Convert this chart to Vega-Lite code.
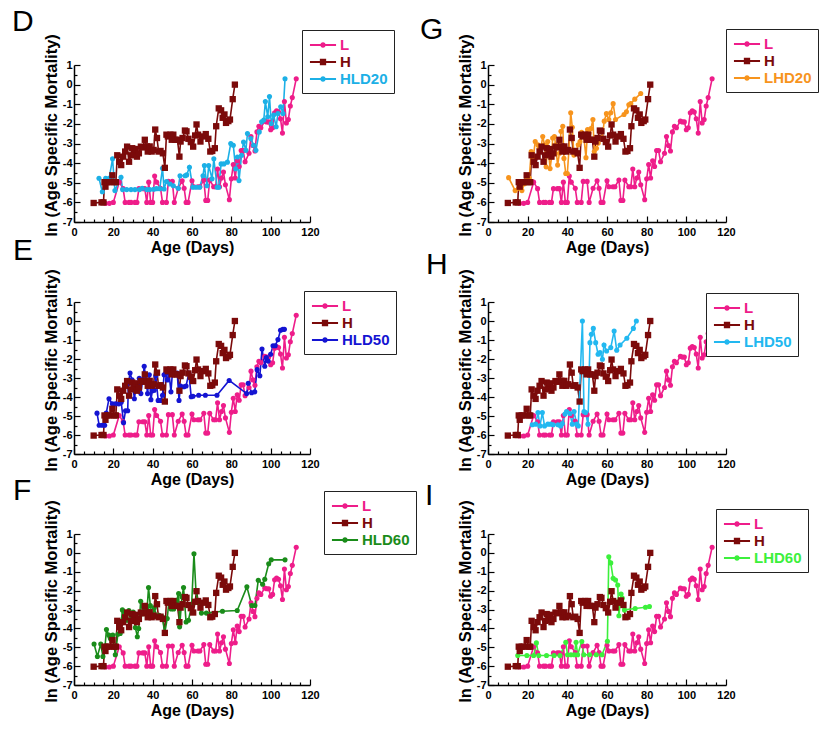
{
"$schema": "https://vega.github.io/schema/vega-lite/v6.json",
"background": "white",
"padding": {"left": 12, "top": 6, "right": 5, "bottom": 5},
"config": {
  "view": {"stroke": null},
  "axis": {"grid": false, "domainColor": "#000", "domainWidth": 1.5, "tickColor": "#000", "tickWidth": 1.2,
    "labelFont": "Liberation Sans", "labelFontWeight": "bold", "labelFontSize": 11, "labelColor": "#000",
    "titleFont": "Liberation Sans", "titleFontWeight": "bold", "titleColor": "#000"},
  "axisX": {"titleFontSize": 16, "titlePadding": 2, "labelPadding": 10, "labelFlush": false},
  "axisY": {"titleFontSize": 16.5, "titlePadding": 3, "labelPadding": 8},
  "legend": {"title": null, "orient": "none", "strokeColor": "#222", "fillColor": "#fff", "padding": 6, "symbolSize": 324, "symbolStrokeWidth": 0, "symbolOffset": 6,
    "symbolType": "M-1.45,-0.1L1.45,-0.1L1.45,0.1L-1.45,0.1Z M0.3,0A0.3,0.3,0,1,1,-0.3,0A0.3,0.3,0,1,1,0.3,0Z",
    "labelFont": "Liberation Sans", "labelFontSize": 15, "labelFontWeight": "bold", "rowPadding": 0, "labelOffset": 8},
  "title": {"font": "Liberation Sans", "fontSize": 30, "fontWeight": "normal", "color": "#000", "anchor": "start", "frame": "group", "baseline": "alphabetic"}
},
"datasets": {"all": [
{"s":"L","d":14,"m":-6},{"s":"L","d":16,"m":-6.05},{"s":"L","d":18,"m":-6.05},{"s":"L","d":20,"m":-6},{"s":"L","d":23,"m":-4.97},{"s":"L","d":25,"m":-5.3},{"s":"L","d":26,"m":-6},{"s":"L","d":28,"m":-6},{"s":"L","d":29,"m":-6},{"s":"L","d":31,"m":-6},{"s":"L","d":32,"m":-6},{"s":"L","d":33,"m":-5.3},{"s":"L","d":35,"m":-5.3},{"s":"L","d":36,"m":-5.3},{"s":"L","d":37,"m":-6},{"s":"L","d":38,"m":-4.97},{"s":"L","d":39,"m":-6},{"s":"L","d":40,"m":-6},{"s":"L","d":41,"m":-4.66},{"s":"L","d":42,"m":-4.97},{"s":"L","d":44,"m":-5.28},{"s":"L","d":45,"m":-6},{"s":"L","d":47,"m":-6},{"s":"L","d":48,"m":-4.93},{"s":"L","d":50,"m":-4.93},{"s":"L","d":51,"m":-6},{"s":"L","d":53,"m":-5.28},{"s":"L","d":55,"m":-4.9},{"s":"L","d":56,"m":-5.28},{"s":"L","d":57,"m":-6},{"s":"L","d":58,"m":-6},{"s":"L","d":60,"m":-4.9},{"s":"L","d":61,"m":-5.2},{"s":"L","d":63,"m":-5.2},{"s":"L","d":64,"m":-5.2},{"s":"L","d":66,"m":-4.86},{"s":"L","d":67,"m":-5.9},{"s":"L","d":68,"m":-5.9},{"s":"L","d":69,"m":-4.86},{"s":"L","d":71,"m":-5.2},{"s":"L","d":72,"m":-5.2},{"s":"L","d":73,"m":-4.3},{"s":"L","d":74,"m":-5.2},{"s":"L","d":75,"m":-4.76},{"s":"L","d":76,"m":-4.45},{"s":"L","d":77,"m":-5.1},{"s":"L","d":79,"m":-5.86},{"s":"L","d":80,"m":-4.8},{"s":"L","d":81,"m":-4.07},{"s":"L","d":82,"m":-4.76},{"s":"L","d":83,"m":-3.88},{"s":"L","d":84,"m":-4.17},{"s":"L","d":85,"m":-3.36},{"s":"L","d":86,"m":-3.36},{"s":"L","d":87,"m":-3.93},{"s":"L","d":89,"m":-3.5},{"s":"L","d":90,"m":-2.64},{"s":"L","d":91,"m":-3.1},{"s":"L","d":92,"m":-3.38},{"s":"L","d":93,"m":-2.41},{"s":"L","d":94,"m":-2.12},{"s":"L","d":95,"m":-2.2},{"s":"L","d":97,"m":-1.86},{"s":"L","d":98,"m":-1.9},{"s":"L","d":99,"m":-1.9},{"s":"L","d":100,"m":-2.3},{"s":"L","d":101,"m":-2.2},{"s":"L","d":102,"m":-1.43},{"s":"L","d":103,"m":-1.34},{"s":"L","d":104,"m":-1.4},{"s":"L","d":105,"m":-1.74},{"s":"L","d":106,"m":-2.47},{"s":"L","d":107,"m":-0.86},{"s":"L","d":108,"m":-1.95},{"s":"L","d":109,"m":-1.78},{"s":"L","d":110,"m":-1.09},{"s":"L","d":111,"m":-0.66},{"s":"L","d":113,"m":0.3},
{"s":"H","d":10,"m":-6.03},{"s":"H","d":14,"m":-6},{"s":"H","d":15,"m":-6},{"s":"H","d":15.5,"m":-4.97},{"s":"H","d":16,"m":-5.2},{"s":"H","d":17,"m":-4.97},{"s":"H","d":18,"m":-4.97},{"s":"H","d":19.5,"m":-4.62},{"s":"H","d":20.5,"m":-4.97},{"s":"H","d":21.3,"m":-4.97},{"s":"H","d":22,"m":-3.6},{"s":"H","d":23,"m":-3.93},{"s":"H","d":24,"m":-4.1},{"s":"H","d":25,"m":-3.67},{"s":"H","d":26,"m":-3.41},{"s":"H","d":27,"m":-3.16},{"s":"H","d":28,"m":-3.93},{"s":"H","d":29,"m":-3.6},{"s":"H","d":29.6,"m":-3.24},{"s":"H","d":30.5,"m":-3.55},{"s":"H","d":31.3,"m":-3.28},{"s":"H","d":32,"m":-3.67},{"s":"H","d":33,"m":-3.5},{"s":"H","d":34,"m":-3.16},{"s":"H","d":35,"m":-3.2},{"s":"H","d":36,"m":-2.81},{"s":"H","d":37,"m":-3.15},{"s":"H","d":37.5,"m":-3.41},{"s":"H","d":38.5,"m":-3.15},{"s":"H","d":39.5,"m":-3.41},{"s":"H","d":40.5,"m":-3.33},{"s":"H","d":41.3,"m":-2.29},{"s":"H","d":42.2,"m":-2.72},{"s":"H","d":43,"m":-3.41},{"s":"H","d":44,"m":-3.38},{"s":"H","d":45.2,"m":-3.5},{"s":"H","d":46.2,"m":-4.24},{"s":"H","d":47,"m":-2.55},{"s":"H","d":47.7,"m":-2.64},{"s":"H","d":49,"m":-2.55},{"s":"H","d":49.7,"m":-2.81},{"s":"H","d":50.5,"m":-2.55},{"s":"H","d":51.5,"m":-2.81},{"s":"H","d":52.6,"m":-2.81},{"s":"H","d":53.6,"m":-3.67},{"s":"H","d":54.2,"m":-2.9},{"s":"H","d":55.2,"m":-2.72},{"s":"H","d":56.4,"m":-2.34},{"s":"H","d":57.2,"m":-2.38},{"s":"H","d":58.2,"m":-2.76},{"s":"H","d":59.4,"m":-2.93},{"s":"H","d":60.6,"m":-3.16},{"s":"H","d":61.6,"m":-2.59},{"s":"H","d":62.3,"m":-2.03},{"s":"H","d":63.1,"m":-2.55},{"s":"H","d":64.3,"m":-2.9},{"s":"H","d":65.6,"m":-2.64},{"s":"H","d":67,"m":-2.52},{"s":"H","d":68.3,"m":-2.76},{"s":"H","d":69.3,"m":-3.41},{"s":"H","d":70.3,"m":-3.38},{"s":"H","d":71.6,"m":-3.24},{"s":"H","d":72.3,"m":-2.12},{"s":"H","d":73.6,"m":-1.21},{"s":"H","d":74.8,"m":-1.31},{"s":"H","d":75.6,"m":-1.69},{"s":"H","d":76.5,"m":-1.52},{"s":"H","d":77.3,"m":-1.95},{"s":"H","d":78.5,"m":-1.86},{"s":"H","d":79.3,"m":-1.78},{"s":"H","d":80.7,"m":-0.74},{"s":"H","d":81.8,"m":0},
{"s":"HLD20","d":12.7,"m":-4.77},{"s":"HLD20","d":14.4,"m":-5.46},{"s":"HLD20","d":16.1,"m":-4.77},{"s":"HLD20","d":17.9,"m":-4.77},{"s":"HLD20","d":19.6,"m":-3.78},{"s":"HLD20","d":20.8,"m":-5.4},{"s":"HLD20","d":23.9,"m":-4.72},{"s":"HLD20","d":24.7,"m":-5.35},{"s":"HLD20","d":26.8,"m":-5.35},{"s":"HLD20","d":29,"m":-5.35},{"s":"HLD20","d":31,"m":-5.35},{"s":"HLD20","d":33.3,"m":-5.35},{"s":"HLD20","d":34.7,"m":-5.28},{"s":"HLD20","d":37,"m":-5.35},{"s":"HLD20","d":38.5,"m":-5.35},{"s":"HLD20","d":40.5,"m":-5.33},{"s":"HLD20","d":41.9,"m":-5.3},{"s":"HLD20","d":43.6,"m":-5.3},{"s":"HLD20","d":45,"m":-4.26},{"s":"HLD20","d":45.8,"m":-5.32},{"s":"HLD20","d":47,"m":-4.94},{"s":"HLD20","d":48.8,"m":-5.06},{"s":"HLD20","d":50.5,"m":-5.15},{"s":"HLD20","d":53,"m":-5.28},{"s":"HLD20","d":53.9,"m":-4.64},{"s":"HLD20","d":56.5,"m":-4.64},{"s":"HLD20","d":57.3,"m":-4.6},{"s":"HLD20","d":58.7,"m":-4.21},{"s":"HLD20","d":60.4,"m":-5.23},{"s":"HLD20","d":62.1,"m":-5.23},{"s":"HLD20","d":63.9,"m":-5.23},{"s":"HLD20","d":65.6,"m":-4.64},{"s":"HLD20","d":66.3,"m":-4.12},{"s":"HLD20","d":67.6,"m":-5.15},{"s":"HLD20","d":68.5,"m":-4.12},{"s":"HLD20","d":70.2,"m":-4.8},{"s":"HLD20","d":71.1,"m":-3.78},{"s":"HLD20","d":72.8,"m":-5.23},{"s":"HLD20","d":73.6,"m":-5.23},{"s":"HLD20","d":74.8,"m":-4.04},{"s":"HLD20","d":76.2,"m":-4.04},{"s":"HLD20","d":78,"m":-3.95},{"s":"HLD20","d":79.7,"m":-3.0},{"s":"HLD20","d":81,"m":-3.09},{"s":"HLD20","d":82.2,"m":-4.29},{"s":"HLD20","d":83.1,"m":-3.69},{"s":"HLD20","d":83.9,"m":-4.89},{"s":"HLD20","d":85.2,"m":-3.6},{"s":"HLD20","d":86.2,"m":-2.92},{"s":"HLD20","d":87.4,"m":-3.35},{"s":"HLD20","d":88.2,"m":-2.49},{"s":"HLD20","d":89.9,"m":-2.75},{"s":"HLD20","d":91.3,"m":-3.09},{"s":"HLD20","d":92.5,"m":-3.35},{"s":"HLD20","d":94.2,"m":-2.41},{"s":"HLD20","d":95.4,"m":-1.89},{"s":"HLD20","d":96.5,"m":-1.8},{"s":"HLD20","d":97.3,"m":-0.86},{"s":"HLD20","d":98.5,"m":-1.64},{"s":"HLD20","d":99.4,"m":-0.61},{"s":"HLD20","d":100.3,"m":-1.98},{"s":"HLD20","d":101.5,"m":-1.55},{"s":"HLD20","d":102.8,"m":-2.15},{"s":"HLD20","d":103.7,"m":-1.47},{"s":"HLD20","d":105.1,"m":-1.13},{"s":"HLD20","d":106.3,"m":-1.47},{"s":"HLD20","d":107.3,"m":0.3},
{"s":"LHD20","d":10.4,"m":-4.74},{"s":"LHD20","d":13.7,"m":-5.4},{"s":"LHD20","d":15.4,"m":-5.28},{"s":"LHD20","d":17.1,"m":-5.4},{"s":"LHD20","d":18.4,"m":-5.05},{"s":"LHD20","d":19.6,"m":-4.83},{"s":"LHD20","d":20.8,"m":-4.76},{"s":"LHD20","d":21.8,"m":-3.41},{"s":"LHD20","d":22.9,"m":-3.67},{"s":"LHD20","d":23.8,"m":-2.9},{"s":"LHD20","d":25.1,"m":-3.07},{"s":"LHD20","d":25.8,"m":-3.24},{"s":"LHD20","d":26.8,"m":-3.16},{"s":"LHD20","d":27.6,"m":-2.64},{"s":"LHD20","d":28.5,"m":-3.07},{"s":"LHD20","d":29.3,"m":-4.19},{"s":"LHD20","d":30.1,"m":-2.9},{"s":"LHD20","d":31.3,"m":-4.28},{"s":"LHD20","d":32.1,"m":-3.67},{"s":"LHD20","d":32.6,"m":-2.72},{"s":"LHD20","d":33.5,"m":-2.64},{"s":"LHD20","d":34.1,"m":-3.07},{"s":"LHD20","d":35.1,"m":-4.1},{"s":"LHD20","d":36,"m":-3.5},{"s":"LHD20","d":36.8,"m":-2.38},{"s":"LHD20","d":37.7,"m":-2.12},{"s":"LHD20","d":38.3,"m":-3.76},{"s":"LHD20","d":39.2,"m":-4.53},{"s":"LHD20","d":40,"m":-4.53},{"s":"LHD20","d":40.8,"m":-3.33},{"s":"LHD20","d":41.7,"m":-1.43},{"s":"LHD20","d":42.5,"m":-2.17},{"s":"LHD20","d":43.3,"m":-3.59},{"s":"LHD20","d":44.4,"m":-3.41},{"s":"LHD20","d":45.5,"m":-3.07},{"s":"LHD20","d":46.4,"m":-2.9},{"s":"LHD20","d":47.2,"m":-2.43},{"s":"LHD20","d":48.2,"m":-2.55},{"s":"LHD20","d":49.4,"m":-3.72},{"s":"LHD20","d":50.2,"m":-2.29},{"s":"LHD20","d":51,"m":-2.47},{"s":"LHD20","d":51.9,"m":-2.24},{"s":"LHD20","d":52.9,"m":-1.78},{"s":"LHD20","d":53.6,"m":-3.41},{"s":"LHD20","d":54.7,"m":-3.24},{"s":"LHD20","d":55.6,"m":-2.98},{"s":"LHD20","d":56.7,"m":-2.69},{"s":"LHD20","d":57.6,"m":-2.72},{"s":"LHD20","d":58.6,"m":-1.86},{"s":"LHD20","d":59.7,"m":-1.48},{"s":"LHD20","d":60.9,"m":-1.78},{"s":"LHD20","d":61.9,"m":-1.43},{"s":"LHD20","d":63.1,"m":-0.97},{"s":"LHD20","d":64.3,"m":-1.78},{"s":"LHD20","d":68.6,"m":-1.52},{"s":"LHD20","d":69.8,"m":-1.38},{"s":"LHD20","d":71,"m":-1.03},{"s":"LHD20","d":72,"m":-0.97},{"s":"LHD20","d":74,"m":-0.74},{"s":"LHD20","d":77,"m":-0.45},
{"s":"HLD50","d":11.7,"m":-4.85},{"s":"HLD50","d":12.8,"m":-5.49},{"s":"HLD50","d":14.4,"m":-5.49},{"s":"HLD50","d":15.6,"m":-5.49},{"s":"HLD50","d":16.4,"m":-4.85},{"s":"HLD50","d":17.8,"m":-4.09},{"s":"HLD50","d":19.5,"m":-4.36},{"s":"HLD50","d":21.1,"m":-4.36},{"s":"HLD50","d":22.8,"m":-4.36},{"s":"HLD50","d":24,"m":-4.27},{"s":"HLD50","d":25.2,"m":-5.35},{"s":"HLD50","d":26.2,"m":-4.72},{"s":"HLD50","d":27.3,"m":-4.72},{"s":"HLD50","d":27.7,"m":-3.28},{"s":"HLD50","d":28.5,"m":-2.74},{"s":"HLD50","d":29.5,"m":-3.1},{"s":"HLD50","d":30.7,"m":-4.09},{"s":"HLD50","d":31.9,"m":-3.28},{"s":"HLD50","d":32.9,"m":-3.46},{"s":"HLD50","d":33.2,"m":-3.01},{"s":"HLD50","d":34,"m":-3.82},{"s":"HLD50","d":34.9,"m":-3.1},{"s":"HLD50","d":35.7,"m":-2.38},{"s":"HLD50","d":36.6,"m":-3.1},{"s":"HLD50","d":37.4,"m":-3.82},{"s":"HLD50","d":38.3,"m":-2.83},{"s":"HLD50","d":39.1,"m":-4.14},{"s":"HLD50","d":39.9,"m":-3.67},{"s":"HLD50","d":40.8,"m":-3.64},{"s":"HLD50","d":41.6,"m":-2.88},{"s":"HLD50","d":42.8,"m":-4.18},{"s":"HLD50","d":44.1,"m":-4.18},{"s":"HLD50","d":45,"m":-3.91},{"s":"HLD50","d":45.8,"m":-2.83},{"s":"HLD50","d":46.6,"m":-2.77},{"s":"HLD50","d":47.5,"m":-3.1},{"s":"HLD50","d":48.3,"m":-2.74},{"s":"HLD50","d":49.3,"m":-3.73},{"s":"HLD50","d":50,"m":-2.77},{"s":"HLD50","d":51.3,"m":-2.77},{"s":"HLD50","d":52.5,"m":-2.74},{"s":"HLD50","d":53.4,"m":-4.18},{"s":"HLD50","d":54.2,"m":-3.42},{"s":"HLD50","d":55.9,"m":-3.46},{"s":"HLD50","d":57,"m":-3.42},{"s":"HLD50","d":58.4,"m":-2.74},{"s":"HLD50","d":59.6,"m":-3.99},{"s":"HLD50","d":60.5,"m":-3.96},{"s":"HLD50","d":63.4,"m":-3.91},{"s":"HLD50","d":66.8,"m":-3.91},{"s":"HLD50","d":72.7,"m":-3.91},{"s":"HLD50","d":78.9,"m":-3.13},{"s":"HLD50","d":87.8,"m":-3.82},{"s":"HLD50","d":88.6,"m":-3.28},{"s":"HLD50","d":90.3,"m":-3.78},{"s":"HLD50","d":91.9,"m":-3.73},{"s":"HLD50","d":93.1,"m":-2.56},{"s":"HLD50","d":94.5,"m":-2.88},{"s":"HLD50","d":95.6,"m":-1.48},{"s":"HLD50","d":97,"m":-2.38},{"s":"HLD50","d":97.8,"m":-1.93},{"s":"HLD50","d":98.7,"m":-2.11},{"s":"HLD50","d":100,"m":-1.75},{"s":"HLD50","d":101.2,"m":-1.3},{"s":"HLD50","d":102.3,"m":-1.3},{"s":"HLD50","d":103.7,"m":-0.98},{"s":"HLD50","d":105,"m":-0.49},{"s":"HLD50","d":106.2,"m":-0.44},{"s":"HLD50","d":107,"m":-0.44},
{"s":"LHD50","d":22.3,"m":-5.46},{"s":"LHD50","d":24,"m":-5.43},{"s":"LHD50","d":25.2,"m":-4.82},{"s":"LHD50","d":26.2,"m":-5.52},{"s":"LHD50","d":27.4,"m":-4.82},{"s":"LHD50","d":28.5,"m":-5.52},{"s":"LHD50","d":30.2,"m":-5.43},{"s":"LHD50","d":31.6,"m":-5.43},{"s":"LHD50","d":32.9,"m":-5.46},{"s":"LHD50","d":35.3,"m":-5.46},{"s":"LHD50","d":36.6,"m":-5.52},{"s":"LHD50","d":37.5,"m":-5.4},{"s":"LHD50","d":38.8,"m":-4.9},{"s":"LHD50","d":39.6,"m":-4.76},{"s":"LHD50","d":41.3,"m":-4.87},{"s":"LHD50","d":42.5,"m":-5.43},{"s":"LHD50","d":43.4,"m":-4.76},{"s":"LHD50","d":44.7,"m":-5.43},{"s":"LHD50","d":45.5,"m":-5.52},{"s":"LHD50","d":47.6,"m":0},{"s":"LHD50","d":48.4,"m":-4.76},{"s":"LHD50","d":49.2,"m":-4.82},{"s":"LHD50","d":50.4,"m":-5.43},{"s":"LHD50","d":51.4,"m":-1.14},{"s":"LHD50","d":52.1,"m":-0.7},{"s":"LHD50","d":53.1,"m":-0.39},{"s":"LHD50","d":54.3,"m":-1.14},{"s":"LHD50","d":55.5,"m":-1.75},{"s":"LHD50","d":56.5,"m":-1.66},{"s":"LHD50","d":57.7,"m":-2.01},{"s":"LHD50","d":58.5,"m":-1.26},{"s":"LHD50","d":59.8,"m":-1.58},{"s":"LHD50","d":61.9,"m":-1.4},{"s":"LHD50","d":63.6,"m":-0.53},{"s":"LHD50","d":64.9,"m":-1.54},{"s":"LHD50","d":66.6,"m":-1.26},{"s":"LHD50","d":70,"m":-0.91},{"s":"LHD50","d":73.3,"m":-0.39},{"s":"LHD50","d":74.8,"m":0},
{"s":"HLD60","d":10.2,"m":-4.83},{"s":"HLD60","d":11.9,"m":-5.49},{"s":"HLD60","d":13.6,"m":-4.83},{"s":"HLD60","d":14.7,"m":-5.49},{"s":"HLD60","d":15.7,"m":-5.05},{"s":"HLD60","d":16.5,"m":-4.06},{"s":"HLD60","d":17.7,"m":-4.36},{"s":"HLD60","d":18.5,"m":-4.53},{"s":"HLD60","d":19.7,"m":-4.36},{"s":"HLD60","d":21,"m":-5.4},{"s":"HLD60","d":22.3,"m":-4.31},{"s":"HLD60","d":23.5,"m":-4.27},{"s":"HLD60","d":24.6,"m":-3.02},{"s":"HLD60","d":25.6,"m":-3.14},{"s":"HLD60","d":26.8,"m":-3.57},{"s":"HLD60","d":27.9,"m":-3.05},{"s":"HLD60","d":29.3,"m":-3.4},{"s":"HLD60","d":30.1,"m":-3.14},{"s":"HLD60","d":31.2,"m":-3.96},{"s":"HLD60","d":32.2,"m":-4.44},{"s":"HLD60","d":32.9,"m":-4.01},{"s":"HLD60","d":33.9,"m":-2.56},{"s":"HLD60","d":35,"m":-3.22},{"s":"HLD60","d":35.9,"m":-2.97},{"s":"HLD60","d":37.2,"m":-2.91},{"s":"HLD60","d":37.9,"m":-1.84},{"s":"HLD60","d":38.8,"m":-2.79},{"s":"HLD60","d":40,"m":-3.4},{"s":"HLD60","d":40.8,"m":-2.91},{"s":"HLD60","d":42.1,"m":-3.36},{"s":"HLD60","d":43.3,"m":-3.31},{"s":"HLD60","d":45,"m":-3.4},{"s":"HLD60","d":46.1,"m":-4.27},{"s":"HLD60","d":47.4,"m":-3.48},{"s":"HLD60","d":48.3,"m":-2.53},{"s":"HLD60","d":49.4,"m":-2.97},{"s":"HLD60","d":50.7,"m":-2.97},{"s":"HLD60","d":52.1,"m":-2.53},{"s":"HLD60","d":53.2,"m":-2.15},{"s":"HLD60","d":53.7,"m":-3.92},{"s":"HLD60","d":54.9,"m":-2.32},{"s":"HLD60","d":55.7,"m":-1.84},{"s":"HLD60","d":57,"m":-3.66},{"s":"HLD60","d":58.2,"m":-3.57},{"s":"HLD60","d":59.8,"m":-2.79},{"s":"HLD60","d":61,"m":-0.05},{"s":"HLD60","d":62,"m":-2.01},{"s":"HLD60","d":63.1,"m":-2.62},{"s":"HLD60","d":64.8,"m":-3.19},{"s":"HLD60","d":67.3,"m":-3.19},{"s":"HLD60","d":75.5,"m":-3.09},{"s":"HLD60","d":83,"m":-3.05},{"s":"HLD60","d":87.9,"m":-1.8},{"s":"HLD60","d":90.4,"m":-2.79},{"s":"HLD60","d":92,"m":-2.79},{"s":"HLD60","d":93.7,"m":-1.45},{"s":"HLD60","d":95.9,"m":-1.66},{"s":"HLD60","d":97,"m":-1.4},{"s":"HLD60","d":99,"m":-0.58},{"s":"HLD60","d":100.3,"m":-0.37},{"s":"HLD60","d":107.3,"m":-0.37},
{"s":"LHD60","d":15,"m":-5.44},{"s":"LHD60","d":19.6,"m":-5.44},{"s":"LHD60","d":23,"m":-5.44},{"s":"LHD60","d":24.4,"m":-4.77},{"s":"LHD60","d":25.6,"m":-5.44},{"s":"LHD60","d":29.5,"m":-5.44},{"s":"LHD60","d":33.3,"m":-5.44},{"s":"LHD60","d":36.3,"m":-5.44},{"s":"LHD60","d":39.2,"m":-4.74},{"s":"LHD60","d":40.1,"m":-5.4},{"s":"LHD60","d":41.8,"m":-5.4},{"s":"LHD60","d":43.5,"m":-5.4},{"s":"LHD60","d":44.4,"m":-4.74},{"s":"LHD60","d":45.2,"m":-5.4},{"s":"LHD60","d":47.3,"m":-4.7},{"s":"LHD60","d":48.3,"m":-5.4},{"s":"LHD60","d":51.2,"m":-5.4},{"s":"LHD60","d":54.6,"m":-5.4},{"s":"LHD60","d":57.5,"m":-5.4},{"s":"LHD60","d":60.2,"m":-4.68},{"s":"LHD60","d":60.9,"m":-0.21},{"s":"LHD60","d":61.9,"m":-0.53},{"s":"LHD60","d":63.1,"m":-1.35},{"s":"LHD60","d":64.3,"m":-1.44},{"s":"LHD60","d":65.4,"m":-1.7},{"s":"LHD60","d":66,"m":-3.33},{"s":"LHD60","d":67.1,"m":-2.18},{"s":"LHD60","d":67.7,"m":-2.4},{"s":"LHD60","d":68.8,"m":-3.02},{"s":"LHD60","d":74.2,"m":-2.95},{"s":"LHD60","d":79.4,"m":-2.88},{"s":"LHD60","d":81.4,"m":-2.84}
]},
"columns": 2,
"spacing": {"row": 80, "column": 178},
"bounds": "flush",
"resolve": {"scale": {"color": "independent", "x": "independent", "y": "independent"}, "legend": {"color": "independent"}},
"concat": [
 {"width": 236, "height": 157, "title": {"text": "D", "dx": -62, "offset": -7},
  "data": {"name": "all"}, "transform": [{"filter": {"field": "s", "oneOf": ["L", "H", "HLD20"]}}],
  "encoding": {
   "x": {"field": "d", "type": "quantitative", "scale": {"domain": [0, 120], "nice": false}, "axis": {"title": "Age (Days)", "values": [0,5,10,15,20,25,30,35,40,45,50,55,60,65,70,75,80,85,90,95,100,105,110,115,120], "labelExpr": "datum.value % 20 === 0 ? '' + datum.value : ''", "tickSize": {"condition": {"test": "datum.value % 20 === 0", "value": -6}, "value": -3}}},
   "y": {"field": "m", "type": "quantitative", "scale": {"domain": [-7, 1], "nice": false}, "axis": {"title": "ln (Age Specific Mortality)", "titleY": 70, "values": [-7,-6.5,-6,-5.5,-5,-4.5,-4,-3.5,-3,-2.5,-2,-1.5,-1,-0.5,0,0.5,1], "labelExpr": "datum.value % 1 === 0 ? '' + datum.value : ''", "tickSize": {"condition": {"test": "datum.value % 1 === 0", "value": -6}, "value": -3}}},
   "color": {"field": "s", "type": "nominal", "scale": {"domain": ["L", "H", "HLD20"], "range": ["#ee1d8a", "#7b0a0a", "#1cb0e6"]},
    "legend": {"legendX": 228, "legendY": -35, "encode": {
      "symbols": {"update": {"shape": {"signal": "datum.value === 'H' ? 'M-1.45,-0.1L1.45,-0.1L1.45,0.1L-1.45,0.1Z M-0.35,-0.35L0.35,-0.35L0.35,0.35L-0.35,0.35Z' : 'M-1.45,-0.1L1.45,-0.1L1.45,0.1L-1.45,0.1Z M0.3,0A0.3,0.3,0,1,1,-0.3,0A0.3,0.3,0,1,1,0.3,0Z'"}, "fill": {"signal": "datum.value === 'L' ? '#ee1d8a' : datum.value === 'H' ? '#7b0a0a' : '#1cb0e6'"}, "stroke": {"value": "transparent"}}},
      "labels": {"update": {"fill": {"signal": "datum.value === 'L' ? '#ee1d8a' : datum.value === 'H' ? '#7b0a0a' : '#1cb0e6'"}}}}}}
  },
  "layer": [
   {"mark": {"type": "line", "strokeWidth": 1.6}},
   {"transform": [{"filter": "datum.s !== 'H'"}], "mark": {"type": "point", "shape": "circle", "filled": true, "size": 26, "opacity": 1}},
   {"transform": [{"filter": "datum.s === 'H'"}], "mark": {"type": "point", "shape": "square", "filled": true, "size": 40, "opacity": 1}}
  ]},
 {"width": 238, "height": 157, "title": {"text": "G", "dx": -68, "offset": -16},
  "data": {"name": "all"}, "transform": [{"filter": {"field": "s", "oneOf": ["L", "H", "LHD20"]}}],
  "encoding": {
   "x": {"field": "d", "type": "quantitative", "scale": {"domain": [0, 120], "nice": false}, "axis": {"title": "Age (Days)", "values": [0,5,10,15,20,25,30,35,40,45,50,55,60,65,70,75,80,85,90,95,100,105,110,115,120], "labelExpr": "datum.value % 20 === 0 ? '' + datum.value : ''", "tickSize": {"condition": {"test": "datum.value % 20 === 0", "value": -6}, "value": -3}}},
   "y": {"field": "m", "type": "quantitative", "scale": {"domain": [-7, 1], "nice": false}, "axis": {"title": "ln (Age Specific Mortality)", "titleY": 70, "values": [-7,-6.5,-6,-5.5,-5,-4.5,-4,-3.5,-3,-2.5,-2,-1.5,-1,-0.5,0,0.5,1], "labelExpr": "datum.value % 1 === 0 ? '' + datum.value : ''", "tickSize": {"condition": {"test": "datum.value % 1 === 0", "value": -6}, "value": -3}}},
   "color": {"field": "s", "type": "nominal", "scale": {"domain": ["L", "H", "LHD20"], "range": ["#ee1d8a", "#7b0a0a", "#f7941d"]},
    "legend": {"legendX": 238, "legendY": -36, "encode": {
      "symbols": {"update": {"shape": {"signal": "datum.value === 'H' ? 'M-1.45,-0.1L1.45,-0.1L1.45,0.1L-1.45,0.1Z M-0.35,-0.35L0.35,-0.35L0.35,0.35L-0.35,0.35Z' : 'M-1.45,-0.1L1.45,-0.1L1.45,0.1L-1.45,0.1Z M0.3,0A0.3,0.3,0,1,1,-0.3,0A0.3,0.3,0,1,1,0.3,0Z'"}, "fill": {"signal": "datum.value === 'L' ? '#ee1d8a' : datum.value === 'H' ? '#7b0a0a' : '#f7941d'"}, "stroke": {"value": "transparent"}}},
      "labels": {"update": {"fill": {"signal": "datum.value === 'L' ? '#ee1d8a' : datum.value === 'H' ? '#7b0a0a' : '#f7941d'"}}}}}}
  },
  "layer": [
   {"mark": {"type": "line", "strokeWidth": 1.6}},
   {"transform": [{"filter": "datum.s !== 'H'"}], "mark": {"type": "point", "shape": "circle", "filled": true, "size": 26, "opacity": 1}},
   {"transform": [{"filter": "datum.s === 'H'"}], "mark": {"type": "point", "shape": "square", "filled": true, "size": 40, "opacity": 1}}
  ]},
 {"width": 236, "height": 152, "title": {"text": "E", "dx": -61, "offset": 2.5},
  "data": {"name": "all"}, "transform": [{"filter": {"field": "s", "oneOf": ["L", "H", "HLD50"]}}],
  "encoding": {
   "x": {"field": "d", "type": "quantitative", "scale": {"domain": [0, 120], "nice": false}, "axis": {"title": "Age (Days)", "values": [0,5,10,15,20,25,30,35,40,45,50,55,60,65,70,75,80,85,90,95,100,105,110,115,120], "labelExpr": "datum.value % 20 === 0 ? '' + datum.value : ''", "tickSize": {"condition": {"test": "datum.value % 20 === 0", "value": -6}, "value": -3}}},
   "y": {"field": "m", "type": "quantitative", "scale": {"domain": [-7, 1], "nice": false}, "axis": {"title": "ln (Age Specific Mortality)", "titleY": 68, "values": [-7,-6.5,-6,-5.5,-5,-4.5,-4,-3.5,-3,-2.5,-2,-1.5,-1,-0.5,0,0.5,1], "labelExpr": "datum.value % 1 === 0 ? '' + datum.value : ''", "tickSize": {"condition": {"test": "datum.value % 1 === 0", "value": -6}, "value": -3}}},
   "color": {"field": "s", "type": "nominal", "scale": {"domain": ["L", "H", "HLD50"], "range": ["#ee1d8a", "#7b0a0a", "#1414d2"]},
    "legend": {"legendX": 230, "legendY": -11, "encode": {
      "symbols": {"update": {"shape": {"signal": "datum.value === 'H' ? 'M-1.45,-0.1L1.45,-0.1L1.45,0.1L-1.45,0.1Z M-0.35,-0.35L0.35,-0.35L0.35,0.35L-0.35,0.35Z' : 'M-1.45,-0.1L1.45,-0.1L1.45,0.1L-1.45,0.1Z M0.3,0A0.3,0.3,0,1,1,-0.3,0A0.3,0.3,0,1,1,0.3,0Z'"}, "fill": {"signal": "datum.value === 'L' ? '#ee1d8a' : datum.value === 'H' ? '#7b0a0a' : '#1414d2'"}, "stroke": {"value": "transparent"}}},
      "labels": {"update": {"fill": {"signal": "datum.value === 'L' ? '#ee1d8a' : datum.value === 'H' ? '#7b0a0a' : '#1414d2'"}}}}}}
  },
  "layer": [
   {"mark": {"type": "line", "strokeWidth": 1.6}},
   {"transform": [{"filter": "datum.s !== 'H'"}], "mark": {"type": "point", "shape": "circle", "filled": true, "size": 26, "opacity": 1}},
   {"transform": [{"filter": "datum.s === 'H'"}], "mark": {"type": "point", "shape": "square", "filled": true, "size": 40, "opacity": 1}}
  ]},
 {"width": 238, "height": 152, "title": {"text": "H", "dx": -62, "offset": -11.5},
  "data": {"name": "all"}, "transform": [{"filter": {"field": "s", "oneOf": ["L", "H", "LHD50"]}}],
  "encoding": {
   "x": {"field": "d", "type": "quantitative", "scale": {"domain": [0, 120], "nice": false}, "axis": {"title": "Age (Days)", "values": [0,5,10,15,20,25,30,35,40,45,50,55,60,65,70,75,80,85,90,95,100,105,110,115,120], "labelExpr": "datum.value % 20 === 0 ? '' + datum.value : ''", "tickSize": {"condition": {"test": "datum.value % 20 === 0", "value": -6}, "value": -3}}},
   "y": {"field": "m", "type": "quantitative", "scale": {"domain": [-7, 1], "nice": false}, "axis": {"title": "ln (Age Specific Mortality)", "titleY": 68, "values": [-7,-6.5,-6,-5.5,-5,-4.5,-4,-3.5,-3,-2.5,-2,-1.5,-1,-0.5,0,0.5,1], "labelExpr": "datum.value % 1 === 0 ? '' + datum.value : ''", "tickSize": {"condition": {"test": "datum.value % 1 === 0", "value": -6}, "value": -3}}},
   "color": {"field": "s", "type": "nominal", "scale": {"domain": ["L", "H", "LHD50"], "range": ["#ee1d8a", "#7b0a0a", "#22b8f0"]},
    "legend": {"legendX": 218, "legendY": -9, "encode": {
      "symbols": {"update": {"shape": {"signal": "datum.value === 'H' ? 'M-1.45,-0.1L1.45,-0.1L1.45,0.1L-1.45,0.1Z M-0.35,-0.35L0.35,-0.35L0.35,0.35L-0.35,0.35Z' : 'M-1.45,-0.1L1.45,-0.1L1.45,0.1L-1.45,0.1Z M0.3,0A0.3,0.3,0,1,1,-0.3,0A0.3,0.3,0,1,1,0.3,0Z'"}, "fill": {"signal": "datum.value === 'L' ? '#ee1d8a' : datum.value === 'H' ? '#7b0a0a' : '#22b8f0'"}, "stroke": {"value": "transparent"}}},
      "labels": {"update": {"fill": {"signal": "datum.value === 'L' ? '#ee1d8a' : datum.value === 'H' ? '#7b0a0a' : '#22b8f0'"}}}}}}
  },
  "layer": [
   {"mark": {"type": "line", "strokeWidth": 1.6}},
   {"transform": [{"filter": "datum.s !== 'H'"}], "mark": {"type": "point", "shape": "circle", "filled": true, "size": 26, "opacity": 1}},
   {"transform": [{"filter": "datum.s === 'H'"}], "mark": {"type": "point", "shape": "square", "filled": true, "size": 40, "opacity": 1}}
  ]},
 {"width": 236, "height": 151, "title": {"text": "F", "dx": -61, "offset": -15},
  "data": {"name": "all"}, "transform": [{"filter": {"field": "s", "oneOf": ["L", "H", "HLD60"]}}],
  "encoding": {
   "x": {"field": "d", "type": "quantitative", "scale": {"domain": [0, 120], "nice": false}, "axis": {"title": "Age (Days)", "values": [0,5,10,15,20,25,30,35,40,45,50,55,60,65,70,75,80,85,90,95,100,105,110,115,120], "labelExpr": "datum.value % 20 === 0 ? '' + datum.value : ''", "tickSize": {"condition": {"test": "datum.value % 20 === 0", "value": -6}, "value": -3}}},
   "y": {"field": "m", "type": "quantitative", "scale": {"domain": [-7, 1], "nice": false}, "axis": {"title": "ln (Age Specific Mortality)", "titleY": 67, "values": [-7,-6.5,-6,-5.5,-5,-4.5,-4,-3.5,-3,-2.5,-2,-1.5,-1,-0.5,0,0.5,1], "labelExpr": "datum.value % 1 === 0 ? '' + datum.value : ''", "tickSize": {"condition": {"test": "datum.value % 1 === 0", "value": -6}, "value": -3}}},
   "color": {"field": "s", "type": "nominal", "scale": {"domain": ["L", "H", "HLD60"], "range": ["#ee1d8a", "#7b0a0a", "#1a8c1a"]},
    "legend": {"legendX": 250, "legendY": -43, "encode": {
      "symbols": {"update": {"shape": {"signal": "datum.value === 'H' ? 'M-1.45,-0.1L1.45,-0.1L1.45,0.1L-1.45,0.1Z M-0.35,-0.35L0.35,-0.35L0.35,0.35L-0.35,0.35Z' : 'M-1.45,-0.1L1.45,-0.1L1.45,0.1L-1.45,0.1Z M0.3,0A0.3,0.3,0,1,1,-0.3,0A0.3,0.3,0,1,1,0.3,0Z'"}, "fill": {"signal": "datum.value === 'L' ? '#ee1d8a' : datum.value === 'H' ? '#7b0a0a' : '#1a8c1a'"}, "stroke": {"value": "transparent"}}},
      "labels": {"update": {"fill": {"signal": "datum.value === 'L' ? '#ee1d8a' : datum.value === 'H' ? '#7b0a0a' : '#1a8c1a'"}}}}}}
  },
  "layer": [
   {"mark": {"type": "line", "strokeWidth": 1.6}},
   {"transform": [{"filter": "datum.s !== 'H'"}], "mark": {"type": "point", "shape": "circle", "filled": true, "size": 26, "opacity": 1}},
   {"transform": [{"filter": "datum.s === 'H'"}], "mark": {"type": "point", "shape": "square", "filled": true, "size": 40, "opacity": 1}}
  ]},
 {"width": 238, "height": 151, "title": {"text": "I", "dx": -63, "offset": -11},
  "data": {"name": "all"}, "transform": [{"filter": {"field": "s", "oneOf": ["L", "H", "LHD60"]}}],
  "encoding": {
   "x": {"field": "d", "type": "quantitative", "scale": {"domain": [0, 120], "nice": false}, "axis": {"title": "Age (Days)", "values": [0,5,10,15,20,25,30,35,40,45,50,55,60,65,70,75,80,85,90,95,100,105,110,115,120], "labelExpr": "datum.value % 20 === 0 ? '' + datum.value : ''", "tickSize": {"condition": {"test": "datum.value % 20 === 0", "value": -6}, "value": -3}}},
   "y": {"field": "m", "type": "quantitative", "scale": {"domain": [-7, 1], "nice": false}, "axis": {"title": "ln (Age Specific Mortality)", "titleY": 67, "values": [-7,-6.5,-6,-5.5,-5,-4.5,-4,-3.5,-3,-2.5,-2,-1.5,-1,-0.5,0,0.5,1], "labelExpr": "datum.value % 1 === 0 ? '' + datum.value : ''", "tickSize": {"condition": {"test": "datum.value % 1 === 0", "value": -6}, "value": -3}}},
   "color": {"field": "s", "type": "nominal", "scale": {"domain": ["L", "H", "LHD60"], "range": ["#ee1d8a", "#7b0a0a", "#3cf03c"]},
    "legend": {"legendX": 228, "legendY": -25, "encode": {
      "symbols": {"update": {"shape": {"signal": "datum.value === 'H' ? 'M-1.45,-0.1L1.45,-0.1L1.45,0.1L-1.45,0.1Z M-0.35,-0.35L0.35,-0.35L0.35,0.35L-0.35,0.35Z' : 'M-1.45,-0.1L1.45,-0.1L1.45,0.1L-1.45,0.1Z M0.3,0A0.3,0.3,0,1,1,-0.3,0A0.3,0.3,0,1,1,0.3,0Z'"}, "fill": {"signal": "datum.value === 'L' ? '#ee1d8a' : datum.value === 'H' ? '#7b0a0a' : '#3cf03c'"}, "stroke": {"value": "transparent"}}},
      "labels": {"update": {"fill": {"signal": "datum.value === 'L' ? '#ee1d8a' : datum.value === 'H' ? '#7b0a0a' : '#3cf03c'"}}}}}}
  },
  "layer": [
   {"mark": {"type": "line", "strokeWidth": 1.6}},
   {"transform": [{"filter": "datum.s !== 'H'"}], "mark": {"type": "point", "shape": "circle", "filled": true, "size": 26, "opacity": 1}},
   {"transform": [{"filter": "datum.s === 'H'"}], "mark": {"type": "point", "shape": "square", "filled": true, "size": 40, "opacity": 1}}
  ]}
]
}
